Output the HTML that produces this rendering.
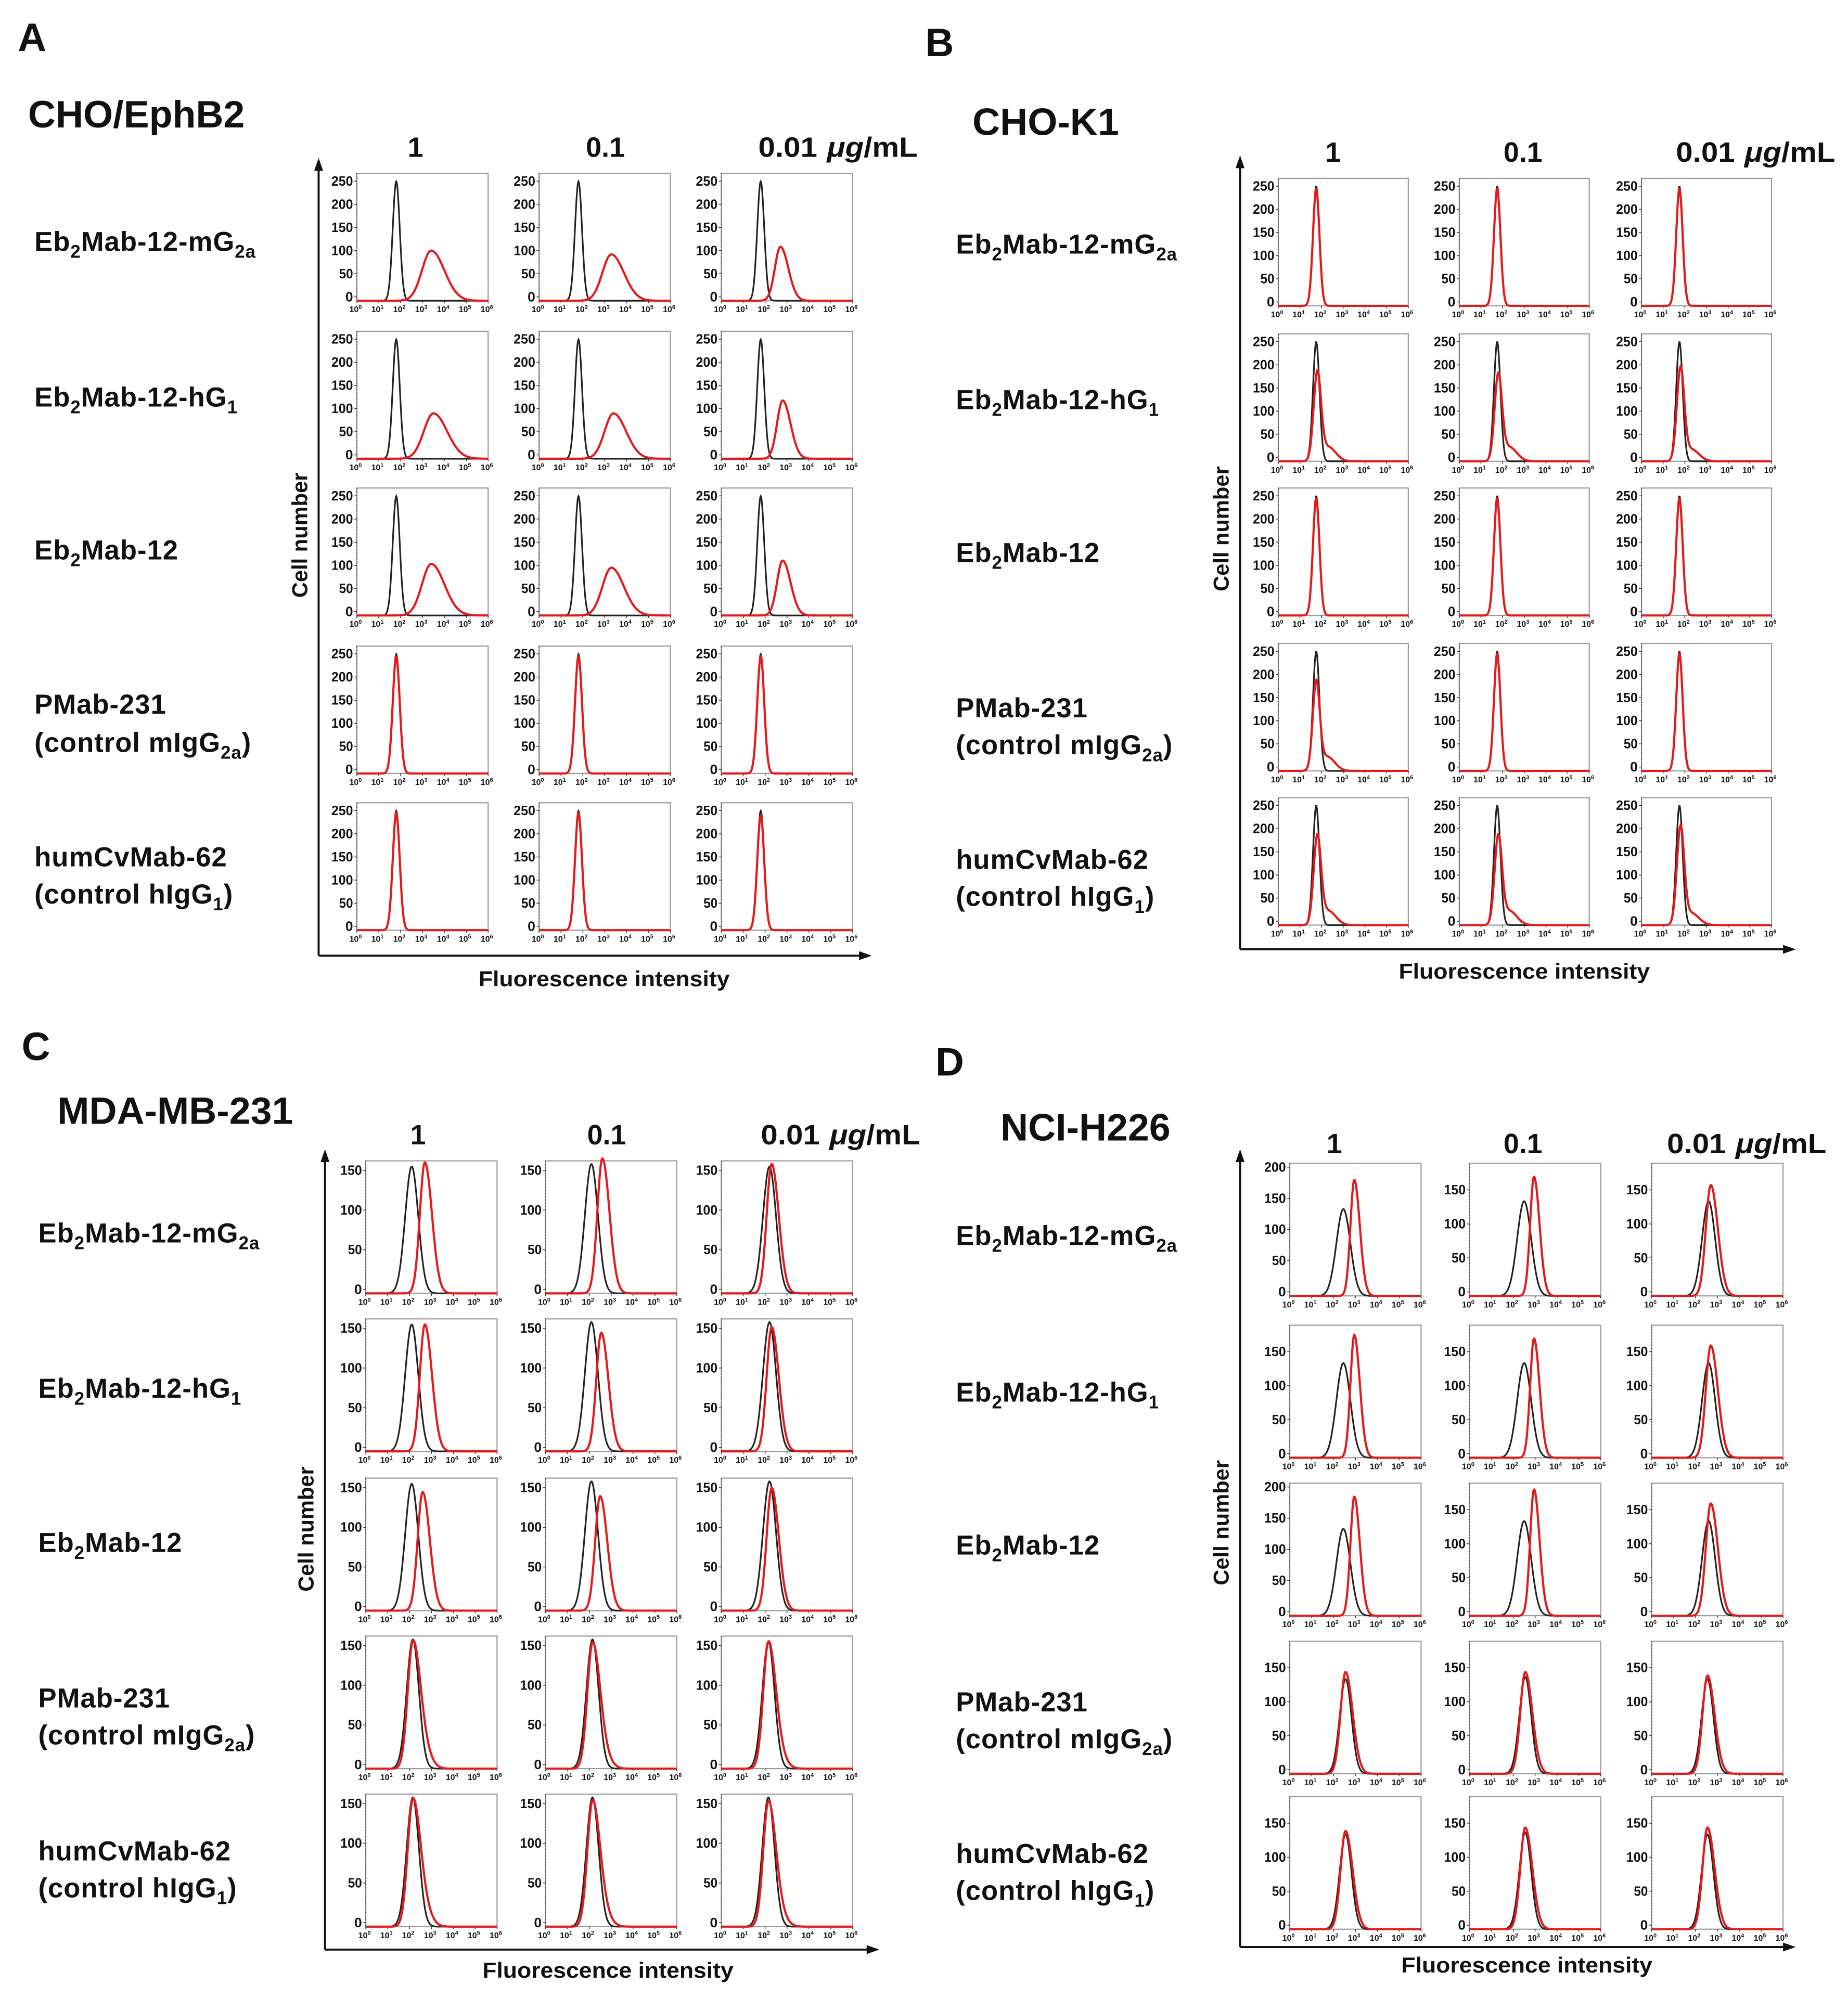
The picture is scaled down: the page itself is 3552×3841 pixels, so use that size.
<!DOCTYPE html>
<html><head><meta charset="utf-8"><style>
html,body{margin:0;padding:0;background:#fff}
svg{display:block}
text{font-family:"Liberation Sans",sans-serif;font-weight:bold;fill:#111}
</style></head><body>
<svg id="fig" xmlns="http://www.w3.org/2000/svg" width="3552" height="3841" viewBox="0 0 1450 1568"></svg>
<script>
// ---- data (log10 peak position, peak height, width) per subplot, row-major (5 rows x 3 cols) ----
const aBlackPeak=[1.8,1.8,1.8, 1.8,1.8,1.8, 1.8,1.8,1.8, 1.8,1.8,1.8, 1.8,1.8,1.8];
const aBlackHeight=[250,250,250, 250,250,250, 250,250,250, 250,250,250, 250,250,250];
const aBlackWidth=[0.16,0.16,0.16, 0.16,0.16,0.16, 0.16,0.16,0.16, 0.16,0.16,0.16, 0.16,0.16,0.16];
const aRedPeak=[3.4,3.3,2.7, 3.5,3.4,2.8, 3.4,3.3,2.8, 1.8,1.8,1.8, 1.8,1.8,1.8];
const aRedHeight=[105,97,113, 95,95,122, 108,100,115, 245,245,245, 245,245,240];
const aRedWidth=[0.5,0.48,0.3, 0.52,0.48,0.3, 0.5,0.48,0.3, 0.16,0.16,0.16, 0.16,0.16,0.16];
const aRedTail=[0,0,0, 0,0,0, 0,0,0, 0,0,0, 0,0,0];

const bBlackPeak=[1.75,1.75,1.75, 1.75,1.75,1.75, 1.75,1.75,1.75, 1.75,1.75,1.75, 1.75,1.75,1.75];
const bBlackHeight=[250,250,250, 250,250,250, 250,250,250, 250,250,250, 250,250,250];
const bBlackWidth=[0.15,0.15,0.15, 0.15,0.15,0.15, 0.15,0.15,0.15, 0.15,0.15,0.15, 0.15,0.15,0.15];
const bRedPeak=[1.75,1.75,1.75, 1.8,1.8,1.8, 1.75,1.75,1.75, 1.75,1.75,1.75, 1.8,1.8,1.8];
const bRedHeight=[245,245,245, 180,175,190, 245,245,245, 180,245,245, 180,180,200];
const bRedWidth=[0.15,0.15,0.15, 0.17,0.17,0.17, 0.15,0.15,0.15, 0.16,0.15,0.15, 0.17,0.17,0.17];
const bRedTail=[0,0,0, 30,30,25, 0,0,0, 30,0,0, 30,30,25];

const cBlackPeak=[2.1,2.1,2.2, 2.1,2.1,2.2, 2.1,2.1,2.2, 2.15,2.15,2.15, 2.15,2.15,2.15];
const cBlackHeight=[155,158,155, 155,158,158, 155,158,158, 158,158,155, 158,158,158];
const cBlackWidth=[0.3,0.3,0.3, 0.3,0.3,0.3, 0.3,0.3,0.3, 0.28,0.28,0.28, 0.28,0.28,0.28];
const cRedPeak=[2.7,2.6,2.3, 2.7,2.55,2.3, 2.6,2.5,2.3, 2.15,2.15,2.15, 2.15,2.15,2.15];
const cRedHeight=[160,165,158, 155,145,152, 145,140,150, 150,150,152, 150,150,150];
const cRedWidth=[0.27,0.27,0.27, 0.27,0.27,0.27, 0.27,0.27,0.27, 0.28,0.28,0.28, 0.28,0.28,0.28];
const cRedTail=[0,0,0, 0,0,0, 0,0,0, 18,12,10, 18,12,10];

const dBlackPeak=[2.45,2.5,2.6, 2.45,2.5,2.6, 2.45,2.5,2.6, 2.55,2.55,2.55, 2.55,2.55,2.55];
const dBlackHeight=[135,135,135, 135,135,135, 135,135,135, 135,138,135, 135,138,135];
const dBlackWidth=[0.32,0.32,0.3, 0.32,0.32,0.3, 0.32,0.32,0.3, 0.27,0.27,0.27, 0.27,0.27,0.27];
const dRedPeak=[2.95,2.95,2.7, 2.95,2.95,2.7, 2.95,2.95,2.7, 2.55,2.55,2.55, 2.55,2.55,2.55];
const dRedHeight=[180,170,158, 175,170,160, 185,180,160, 145,145,140, 140,145,145];
const dRedWidth=[0.21,0.21,0.27, 0.21,0.21,0.27, 0.21,0.21,0.27, 0.27,0.27,0.27, 0.27,0.27,0.27];
const dRedTail=[0,0,0, 0,0,0, 0,0,0, 0,0,0, 0,0,0];

const aYTicks=[0,50,100,150,200,250];
const cYTicks=[0,50,100,150];
const dYTicksBig=[0,50,100,150,200];
const xTickExp=[0,1,2,3,4,5,6];
const colHeaders=["1","0.1","0.01"];

// ---- layout ----
const NS="http://www.w3.org/2000/svg";
const svg=document.getElementById('fig');
function el(tag,attrs,parent){const e=document.createElementNS(NS,tag);for(const k in attrs)e.setAttribute(k,attrs[k]);(parent||svg).appendChild(e);return e;}

const panels=[
 {id:'a',letter:'A',lx:14,ly:40,title:'CHO/EphB2',tx:22,ty:100,cols:[280,423,566],rows:[136,260,383,507,630],w:103,h:100,
  vx:250,vtop:126,hy:750,hright:682,hdrY:123,hdrX:[326,475,595],cnX:241,cnY:420,fiX:474,fiY:774,rlx:27,
  labels:[[190],[312],[432],[553,583],[673,702]],bk:aBlackPeak,bh:aBlackHeight,bw:aBlackWidth,rp:aRedPeak,rh:aRedHeight,rw:aRedWidth,rt:aRedTail,
  ticks:()=>aYTicks,vmax:()=>267},
 {id:'b',letter:'B',lx:726,ly:44,title:'CHO-K1',tx:763,ty:106,cols:[1003,1145,1288],rows:[140,262,383,505,626],w:102,h:100,
  vx:973,vtop:124,hy:745,hright:1407,hdrY:127,hdrX:[1046,1195,1315],cnX:964,cnY:415,fiX:1196,fiY:768,rlx:750,
  labels:[[192],[314],[434],[556,585],[675,704]],bk:bBlackPeak,bh:bBlackHeight,bw:bBlackWidth,rp:bRedPeak,rh:bRedHeight,rw:bRedWidth,rt:bRedTail,
  ticks:()=>aYTicks,vmax:()=>267},
 {id:'c',letter:'C',lx:17,ly:832,title:'MDA-MB-231',tx:45,ty:882,cols:[287,428,566],rows:[911,1035,1160,1284,1408],w:103,h:104,
  vx:255,vtop:904,hy:1530,hright:688,hdrY:898,hdrX:[328,476,597],cnX:246,cnY:1200,fiX:477,fiY:1552,rlx:30,
  labels:[[968],[1090],[1211],[1333,1362],[1453,1482]],bk:cBlackPeak,bh:cBlackHeight,bw:cBlackWidth,rp:cRedPeak,rh:cRedHeight,rw:cRedWidth,rt:cRedTail,
  ticks:()=>cYTicks,vmax:()=>162},
 {id:'d',letter:'D',lx:734,ly:844,title:'NCI-H226',tx:785,ty:895,cols:[1012,1153,1296],rows:[913,1040,1164,1288,1410],w:103,h:104,
  vx:973,vtop:904,hy:1528,hright:1407,hdrY:905,hdrX:[1047,1195,1308],cnX:964,cnY:1195,fiX:1198,fiY:1548,rlx:750,
  labels:[[970],[1093],[1213],[1336,1365],[1455,1484]],bk:dBlackPeak,bh:dBlackHeight,bw:dBlackWidth,rp:dRedPeak,rh:dRedHeight,rw:dRedWidth,rt:dRedTail,
  ticks:(r,c)=>(c===0&&(r===0||r===2))?dYTicksBig:cYTicks,vmax:(r,c)=>(c===0&&(r===0||r===2))?206:189}
];
const rowLabels=[["Eb|2|Mab-12-mG|2a|"],["Eb|2|Mab-12-hG|1|"],["Eb|2|Mab-12"],["PMab-231","(control mIgG|2a|)"],["humCvMab-62","(control hIgG|1|)"]];

function richText(g,str,x,y,size,name){
  const t=el('text',{x:x,y:y,'font-size':size,'letter-spacing':0.4},g);
  
  
  const parts=str.split('|');
  parts.forEach((p,i)=>{
    if(!p)return;
    const s=el('tspan',{},t);
    if(i%2===1){s.setAttribute('font-size',size*0.66);s.setAttribute('dy',size*0.25);}
    else if(i>0){s.setAttribute('dy',-size*0.25);}
    s.textContent=p;
  });
  return t;
}

function curve(x,c,hgt,s,tail,asym){
  const sl=s*(asym?0.85:1), sr=s*(asym?1.2:1);
  const z=(x-c)/(x<c?sl:sr);
  let v=hgt*Math.exp(-0.5*z*z);
  if(tail){const z2=(x-(c+0.5))/0.35;v+=tail*Math.exp(-0.5*z2*z2);}
  return v;
}

panels.forEach(P=>{
  const g=el('g',{});
  
  
  const L=el('text',{x:P.lx,y:P.ly,'font-size':31},g);L.textContent=P.letter;
  
  const T=el('text',{x:P.tx,y:P.ty,'font-size':30},g);T.textContent=P.title;
  
  colHeaders.forEach((hdr,ci)=>{
    const t=el('text',{x:P.hdrX[ci],y:P.hdrY,'font-size':22,'text-anchor':ci===2?'start':'middle'},g);
    
    t.textContent=hdr;
    if(ci===2){const s=el('tspan',{dx:7,'font-style':'italic'},t);s.textContent='μ';const s2=el('tspan',{'font-style':'italic'},t);s2.textContent='g';const s3=el('tspan',{},t);s3.textContent='/mL';
      t.setAttribute('textLength',125);t.setAttribute('lengthAdjust','spacingAndGlyphs');}
  });
  el('line',{x1:P.vx,y1:P.hy,x2:P.vx,y2:P.vtop+6,stroke:'#111','stroke-width':1.6},g);
  el('polygon',{points:`${P.vx-3.5},${P.vtop+8} ${P.vx+3.5},${P.vtop+8} ${P.vx},${P.vtop-2}`,fill:'#111'},g);
  el('line',{x1:P.vx,y1:P.hy,x2:P.hright-6,y2:P.hy,stroke:'#111','stroke-width':1.6},g);
  el('polygon',{points:`${P.hright-8},${P.hy-3.5} ${P.hright-8},${P.hy+3.5} ${P.hright+2},${P.hy}`,fill:'#111'},g);
  const cn=el('text',{x:P.cnX,y:P.cnY,'font-size':17,'text-anchor':'middle',transform:`rotate(-90 ${P.cnX} ${P.cnY})`},g);
  cn.textContent='Cell number';
  const fi=el('text',{x:P.fiX,y:P.fiY,'font-size':17,'text-anchor':'middle','textLength':197,'lengthAdjust':'spacingAndGlyphs'},g);
  fi.textContent='Fluorescence intensity';
  rowLabels.forEach((lines,ri)=>{
    lines.forEach((ln,li)=>richText(g,ln,P.rlx,P.labels[ri][li]+7,21.5,'row-label-'+(ri+1)));
  });
  for(let r=0;r<5;r++)for(let c=0;c<3;c++){
    const i=r*3+c, x0=P.cols[c], y0=P.rows[r], w=P.w, h=P.h;
    const vmax=P.vmax(r,c);
    const sg=el('g',{},g);
    
    
    const xs=v=>x0+w*v/6;
    const ys=v=>y0+h*(0.97-0.97*v/vmax);
    const yc=v=>ys(v)+0.03*h*(1-Math.min(1,v/vmax));
    el('rect',{x:x0,y:y0,width:w,height:h,fill:'#fff',stroke:'#9a9a9a','stroke-width':0.9},sg);
    el('line',{x1:x0,y1:y0,x2:x0,y2:y0+h,stroke:'#555','stroke-width':0.7,'stroke-dasharray':'1.5,1'},sg);
    P.ticks(r,c).forEach(tv=>{
      el('line',{x1:x0-2,y1:ys(tv),x2:x0,y2:ys(tv),stroke:'#333','stroke-width':0.6},sg);
      const t=el('text',{x:x0-3,y:ys(tv)+3.5,'font-size':10.5,'text-anchor':'end','textLength':tv>=100?17:(tv>=10?11:6),'lengthAdjust':'spacingAndGlyphs'},sg);
      
      t.textContent=tv;
    });
    xTickExp.forEach(e=>{
      el('line',{x1:xs(e),y1:y0+h,x2:xs(e),y2:y0+h+2,stroke:'#333','stroke-width':0.6},sg);
      const t=el('text',{x:xs(e)-1,y:y0+h+9,'font-size':6.5,'text-anchor':'middle'},sg);
      
      t.textContent='10';const s=el('tspan',{'font-size':4.5,dy:-2.5},t);s.textContent=e;
    });
    const mk=(c0,hh,ss,tail,asym)=>{let d='';for(let k=0;k<=300;k++){const lx=6*k/300;const v=curve(lx,c0,hh,ss,tail,asym);d+=(k?'L':'M')+xs(lx).toFixed(2)+','+yc(v).toFixed(2);}return d;};
    const bp=el('path',{d:mk(P.bk[i],P.bh[i],P.bw[i],0,false),fill:'none',stroke:'#222','stroke-width':1.3},sg);
    
    const rp=el('path',{d:mk(P.rp[i],P.rh[i],P.rw[i],P.rt[i],P.rw[i]>0.2),fill:'none',stroke:'#e41a1a','stroke-width':1.7},sg);
    
  }
});
</script>
</body></html>
